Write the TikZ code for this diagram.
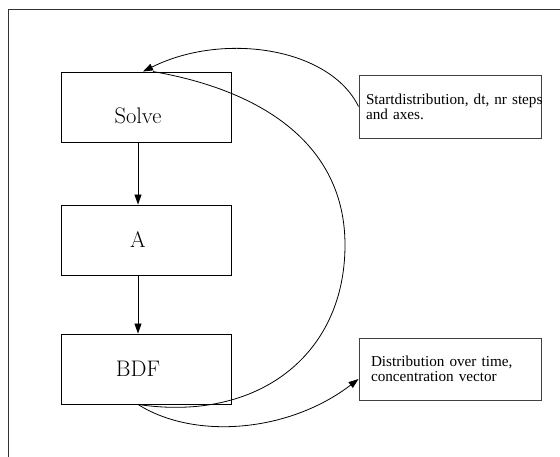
\documentclass[tikz,border=0pt]{standalone}
\usepackage{fontspec}
\newfontfamily\notefont{Liberation Serif}
\usetikzlibrary{arrows.meta}
\begin{document}
\begin{tikzpicture}[x=1pt,y=1pt,
  line/.style={line width=0.8pt},
  arr/.style={line width=0.8pt,-{Triangle[length=10pt,width=7pt]}},
  box/.style={draw, line width=0.9pt, minimum width=170pt, minimum height=70pt, inner sep=0pt,
    font=\fontsize{22.5}{27}\selectfont},
  note/.style={draw=black!75, line width=0.9pt, align=left, inner ysep=0pt,
    font=\notefont\fontsize{15.2}{15}\selectfont}]
\useasboundingbox (0,0) rectangle (560,457);
% frame
\draw[black!80, line width=0.9pt] (8.5,0) -- (8.5,447.5) -- (560,447.5);
% boxes
\node[box] (solve) at (146,350) {\smash{\raisebox{-17pt}{Solve}}\hspace*{16pt}};
\node[box] (a) at (146,217) {A\hspace*{16pt}};
\node[box] (bdf) at (146,88) {BDF\hspace*{16pt}};
% notes
\node[note, text width=168pt, inner xsep=7pt, minimum height=63pt] (note1) at (450,350.5)
  {\mbox{Startdistribution, dt, nr steps}\\and axes.};
\node[note, text width=158pt, inner xsep=12pt, minimum height=62pt] (note2) at (450,88)
  {Distribution over time,\\concentration vector};
% connectors
\draw[arr] ([xshift=-8pt]solve.south) -- ([xshift=-8pt]a.north);
\draw[arr] ([xshift=-8pt]a.south) -- ([xshift=-8pt]bdf.north);
\draw[line] ([xshift=-8pt]bdf.south) .. controls +(120,-18) and +(0,-110) .. (345,212)
  .. controls +(0,100) and +(110,-19) .. ([xshift=7pt]solve.north);
\draw[arr] (note1.west) .. controls +(-29,59) and +(80,40) .. ([xshift=-3pt]solve.north);
\draw[arr] ([xshift=-8pt]bdf.south) .. controls +(57,-36) and +(-69,-53) .. ([yshift=-10pt]note2.west);
\end{tikzpicture}
\end{document}
